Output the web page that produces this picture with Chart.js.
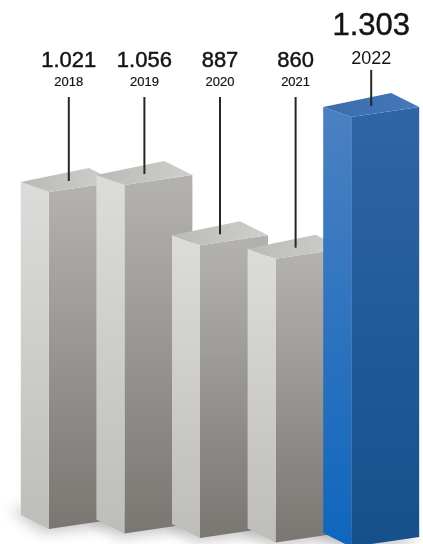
<!DOCTYPE html>
<html>
<head>
<meta charset="utf-8">
<script src="https://cdn.jsdelivr.net/npm/chart.js@4"></script>
<style>
  html, body { margin: 0; padding: 0; background: #fff; }
  #wrap { width: 423px; height: 544px; position: relative; }
</style>
</head>
<body>
<div id="wrap"><canvas id="chart"></canvas></div>
<script>
// data
const years = ["2018", "2019", "2020", "2021", "2022"]
const values = [1021, 1056, 887, 860, 1303]
const highlight = 4   // index of the blue bar

function fmt(v){
    // german thousands separator: 1.021
    return v.toLocaleString("de-DE")
}

function poly(ctx, pts){
    ctx.beginPath()
    ctx.moveTo(pts[0][0], pts[0][1])
    for (let i = 1; i < pts.length; i++) ctx.lineTo(pts[i][0], pts[i][1])
    ctx.closePath()
}

function vgrad(ctx, y0, y1, c0, c1){
    const g = ctx.createLinearGradient(0, y0, 0, y1)
    g.addColorStop(0, c0)
    g.addColorStop(1, c1)
    return g
}

const grey = {
    front: ["#b3b1ae", "#7a7672"],
    left: ["#dbdbd9", "#bdbdba"],
    top: ["#b9b9b6", "#cfcfcc"]
}
const blue = {
    front: ["#2f64a6", "#15508c"],
    left: ["#4a80c2", "#0f66bd"],
    top: ["#3a6cab", "#4679bb"]
}

function heavyText(ctx, txt, x, y, w){
    ctx.fillText(txt, x, y)
    if (w > 0) {
        ctx.lineWidth = w
        ctx.strokeStyle = "#141414"
        ctx.strokeText(txt, x, y)
    }
}

const boxPlugin = {
    id: "boxes",
    afterDatasetsDraw(chart){
        const ctx = chart.ctx
        const meta = chart.getDatasetMeta(0)
        const depth = 28
        const boxes = meta.data.map((bar, i) => {
            const p = bar.getProps(["x", "y", "base", "width"], true)
            const shift = (i - 2) * 4.5
            const F = p.x - p.width / 2
            const R = p.x + p.width / 2
            return {F: F, R: R, T: p.y + shift, B: p.base + shift}
        })

        // soft floor shadow
        ctx.save()
        ctx.filter = "blur(7px)"
        ctx.fillStyle = "rgba(0,0,0,0.22)"
        boxes.forEach(b => {
            poly(ctx, [[b.F - depth - 12, b.B - 20], [b.F - 6, b.B + 4], [b.R, b.B - 4], [b.R - depth, b.B - 24]])
            ctx.fill()
        })
        ctx.restore()

        boxes.forEach((b, i) => {
            const c = i === highlight ? blue : grey
            // front face
            poly(ctx, [[b.F, b.T], [b.R, b.T - 10], [b.R, b.B - 10], [b.F, b.B]])
            ctx.fillStyle = vgrad(ctx, b.T, b.B, c.front[0], c.front[1])
            ctx.fill()
            // left face
            poly(ctx, [[b.F - depth, b.T - 10], [b.F, b.T], [b.F, b.B], [b.F - depth, b.B - 14]])
            ctx.fillStyle = vgrad(ctx, b.T, b.B, c.left[0], c.left[1])
            ctx.fill()
            // top face
            poly(ctx, [[b.F - depth, b.T - 10], [b.F, b.T], [b.R, b.T - 10], [b.R - depth, b.T - 24]])
            const g = ctx.createLinearGradient(b.F - depth, b.T - 20, b.R, b.T)
            g.addColorStop(0, c.top[0])
            g.addColorStop(1, c.top[1])
            ctx.fillStyle = g
            ctx.fill()
        })

        // labels and leader lines
        ctx.save()
        ctx.textAlign = "center"
        ctx.textBaseline = "middle"
        ctx.fillStyle = "#141414"
        boxes.forEach((b, i) => {
            const cx = b.F + 20
            const cy = b.T - 11
            let numY = 61, yearY = 82, lineY = 97
            let numFont = "22px 'Liberation Sans', Arial, sans-serif"
            let yearFont = "13px 'Liberation Sans', Arial, sans-serif"
            if (i === highlight) {
                numY = b.T - 90
                yearY = b.T - 58
                lineY = b.T - 47
                numFont = "31px 'Liberation Sans', Arial, sans-serif"
                yearFont = "18px 'Liberation Sans', Arial, sans-serif"
            }
            ctx.font = numFont
            heavyText(ctx, fmt(values[i]), cx, numY, 0.45)
            ctx.font = yearFont
            heavyText(ctx, years[i], cx, yearY, i === highlight ? 0 : 0.2)
            ctx.strokeStyle = "#262626"
            ctx.lineWidth = 2
            ctx.beginPath()
            ctx.moveTo(cx, lineY)
            ctx.lineTo(cx, cy)
            ctx.stroke()
        })
        ctx.restore()
    }
}

new Chart(document.getElementById("chart"), {
    type: "bar",
    data: {
        labels: years,
        datasets: [{
            label: "Anzahl",
            data: values,
            backgroundColor: "rgba(0,0,0,0)",
            borderWidth: 0,
            barThickness: 68
        }]
    },
    options: {
        responsive: true,
        maintainAspectRatio: false,
        animation: false,
        layout: { padding: { left: 45, right: 0, top: 0, bottom: 6 } },
        plugins: {
            legend: { display: false },
            tooltip: { enabled: false }
        },
        scales: {
            x: { display: false },
            y: { display: false, min: 0, max: 1630 }
        }
    },
    plugins: [boxPlugin]
})
</script>
</body>
</html>
